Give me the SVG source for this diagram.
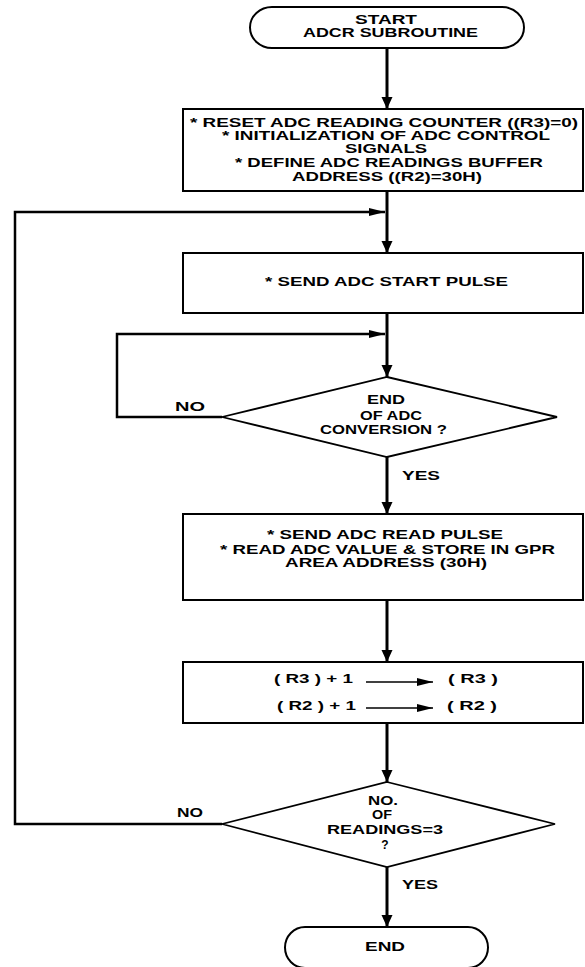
<svg xmlns="http://www.w3.org/2000/svg" width="585" height="967" viewBox="0 0 585 967">
<style>
.t{font-family:"Liberation Sans",Arial,sans-serif;font-size:12px;font-weight:bold;fill:#000}
.box{fill:#fff;stroke:#000;stroke-width:2}
.dia{fill:#fff;stroke:#000;stroke-width:1.8}
.main{fill:none;stroke:#000;stroke-width:3}
.loop{fill:none;stroke:#000;stroke-width:2.5}
.thin{fill:none;stroke:#000;stroke-width:1.5}
</style>
<defs>
<marker id="ad" markerUnits="userSpaceOnUse" markerWidth="14" markerHeight="12" refX="12" refY="5.5" orient="auto">
<path d="M0,0 L12,5.5 L0,11 z" fill="#000"/>
</marker>
<marker id="ah" markerUnits="userSpaceOnUse" markerWidth="18" markerHeight="10" refX="16" refY="4" orient="auto">
<path d="M0,0 L16,4 L0,8 z" fill="#000"/>
</marker>
<marker id="as" markerUnits="userSpaceOnUse" markerWidth="18" markerHeight="9" refX="16" refY="4" orient="auto">
<path d="M0,0 L16,4 L0,8 z" fill="#000"/>
</marker>
</defs>

<g id="connectors">
<line class="main" x1="387" y1="48" x2="387" y2="109" marker-end="url(#ad)"/>
<line class="main" x1="387" y1="191" x2="387" y2="253" marker-end="url(#ad)"/>
<line class="main" x1="387" y1="313" x2="387" y2="377" marker-end="url(#ad)"/>
<line class="main" x1="387" y1="457" x2="387" y2="514" marker-end="url(#ad)"/>
<line class="main" x1="387" y1="600" x2="387" y2="662" marker-end="url(#ad)"/>
<line class="main" x1="387" y1="723" x2="387" y2="782" marker-end="url(#ad)"/>
<line class="main" x1="387" y1="867" x2="387" y2="927" marker-end="url(#ad)"/>
<polyline class="loop" points="222,824 15,824 15,212 385,212" marker-end="url(#ah)"/>
<polyline class="loop" points="222,417 117,417 117,334 385,334" marker-end="url(#ah)"/>
<text class="t" x="190" y="411" text-anchor="middle" textLength="30" lengthAdjust="spacingAndGlyphs">NO</text>
<text class="t" x="402" y="480" textLength="38" lengthAdjust="spacingAndGlyphs">YES</text>
<text class="t" x="177" y="817" textLength="26" lengthAdjust="spacingAndGlyphs">NO</text>
<text class="t" x="402" y="889" textLength="36" lengthAdjust="spacingAndGlyphs">YES</text>
</g>

<g id="start">
<path class="box" d="M272,7 H502 A22,20.5 0 0 1 502,48 H272 A22,20.5 0 0 1 272,7 Z"/>
<text class="t" x="355" y="24" textLength="62" lengthAdjust="spacingAndGlyphs">START</text>
<text class="t" x="303" y="37" textLength="175" lengthAdjust="spacingAndGlyphs">ADCR SUBROUTINE</text>
</g>

<g id="init">
<rect class="box" x="183" y="109" width="400" height="82"/>
<text class="t" x="190" y="127" textLength="388" lengthAdjust="spacingAndGlyphs">* RESET ADC READING COUNTER ((R3)=0)</text>
<text class="t" x="222" y="140" textLength="328" lengthAdjust="spacingAndGlyphs">* INITIALIZATION OF ADC CONTROL</text>
<text class="t" x="345" y="153" textLength="82" lengthAdjust="spacingAndGlyphs">SIGNALS</text>
<text class="t" x="235" y="167" textLength="308" lengthAdjust="spacingAndGlyphs">* DEFINE ADC READINGS BUFFER</text>
<text class="t" x="292" y="181" textLength="190" lengthAdjust="spacingAndGlyphs">ADDRESS ((R2)=30H)</text>
</g>

<g id="start_pulse">
<rect class="box" x="183" y="253" width="400" height="60"/>
<text class="t" x="265" y="286" textLength="243" lengthAdjust="spacingAndGlyphs">* SEND ADC START PULSE</text>
</g>

<g id="eoc">
<polygon class="dia" points="387,377 557,417 387,457 222,417"/>
<text class="t" x="367" y="404" textLength="38" lengthAdjust="spacingAndGlyphs">END</text>
<text class="t" x="360" y="420" textLength="62" lengthAdjust="spacingAndGlyphs">OF ADC</text>
<text class="t" x="320" y="434" textLength="127" lengthAdjust="spacingAndGlyphs">CONVERSION ?</text>
</g>

<g id="read">
<rect class="box" x="183" y="514" width="400" height="86"/>
<text class="t" x="267" y="539" textLength="236" lengthAdjust="spacingAndGlyphs">* SEND ADC READ PULSE</text>
<text class="t" x="220" y="554" textLength="335" lengthAdjust="spacingAndGlyphs">* READ ADC VALUE &amp; STORE IN GPR</text>
<text class="t" x="285" y="567" textLength="202" lengthAdjust="spacingAndGlyphs">AREA ADDRESS (30H)</text>
</g>

<g id="incr">
<rect class="box" x="183" y="662" width="400" height="61"/>
<text class="t" x="274" y="683" textLength="79" lengthAdjust="spacingAndGlyphs">( R3 ) + 1</text>
<line class="thin" x1="366" y1="682" x2="433" y2="682" marker-end="url(#as)"/>
<text class="t" x="448" y="683" textLength="50" lengthAdjust="spacingAndGlyphs">( R3 )</text>
<text class="t" x="277" y="710" textLength="79" lengthAdjust="spacingAndGlyphs">( R2 ) + 1</text>
<line class="thin" x1="366" y1="708" x2="433" y2="708" marker-end="url(#as)"/>
<text class="t" x="447" y="710" textLength="50" lengthAdjust="spacingAndGlyphs">( R2 )</text>
</g>

<g id="count">
<polygon class="dia" points="387,782 555,824 387,867 222,824"/>
<text class="t" x="368" y="805" textLength="30" lengthAdjust="spacingAndGlyphs">NO.</text>
<text class="t" x="372" y="819" textLength="20" lengthAdjust="spacingAndGlyphs">OF</text>
<text class="t" x="327" y="834" textLength="116" lengthAdjust="spacingAndGlyphs">READINGS=3</text>
<text class="t" x="385" y="849" text-anchor="middle">?</text>
</g>

<g id="end">
<path class="box" d="M305,927 H468 A20,20.5 0 0 1 468,968 H305 A20,20.5 0 0 1 305,927 Z"/>
<text class="t" x="365" y="951" textLength="40" lengthAdjust="spacingAndGlyphs">END</text>
</g>
</svg>
